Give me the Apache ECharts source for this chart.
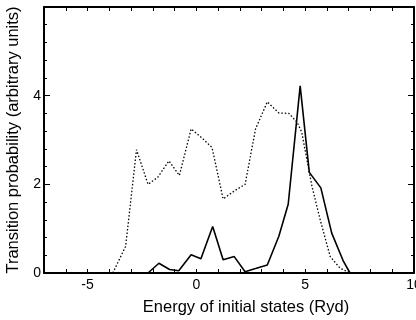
<!DOCTYPE html>
<html>
<head>
<meta charset="utf-8">
<script src="https://cdn.jsdelivr.net/npm/echarts@6/dist/echarts.min.js"></script>
<style>html,body{margin:0;padding:0;background:#fff}#c{width:416px;height:320px}</style>
</head>
<body>
<div id="c"></div>
<script>
// Dotted curve
var dottedX = [-3.84, -3.25, -2.75, -2.22, -1.77, -1.26, -0.78, -0.24, 0.25, 0.72, 1.23, 1.74, 2.24, 2.72, 3.26, 3.79, 4.25, 4.63, 4.84, 5.31, 5.69, 6.15, 6.6, 7.06];
var dottedY = [0, 0.6, 2.78, 2.0, 2.16, 2.53, 2.2, 3.25, 3.05, 2.83, 1.67, 1.85, 2.0, 3.25, 3.86, 3.61, 3.6, 3.4, 3.18, 1.96, 1.2, 0.37, 0.11, 0];
// Solid curve
var solidX = [-2.22, -1.72, -1.23, -0.81, -0.24, 0.21, 0.75, 1.23, 1.74, 2.24, 2.72, 3.26, 3.79, 4.22, 4.77, 5.19, 5.72, 6.22, 6.76, 7.06];
var solidY = [0, 0.22, 0.08, 0.05, 0.41, 0.32, 1.05, 0.3, 0.37, 0.03, 0.1, 0.18, 0.83, 1.55, 4.22, 2.27, 1.92, 0.9, 0.26, 0];
// Axis ticks/labels
var xLabels = [-5, 0, 5, 10];
var yLabels = [0, 2, 4];

function pairs(xs, ys) { return xs.map(function (x, i) { return [x, ys[i]]; }); }

var FONT = 'Liberation Sans';
var chart = echarts.init(document.getElementById('c'));
function xAxisDef(pos, withLabels) {
  var a = {
    type: 'value', min: -7, max: 10, interval: 1, position: pos,
    axisLine: { show: true, onZero: false, lineStyle: { color: '#000', width: 2 } },
    axisTick: { show: true, inside: true, length: 4, lineStyle: { color: '#000', width: 1 } },
    splitLine: { show: false },
    axisLabel: { show: withLabels, margin: 5, fontFamily: FONT, fontSize: 14, color: '#000',
      formatter: function (v) { return xLabels.indexOf(v) >= 0 ? String(v) : ''; } }
  };
  if (withLabels) {
    a.name = 'Energy of initial states (Ryd)';
    a.nameLocation = 'middle';
    a.nameGap = 26;
    a.nameTextStyle = { fontFamily: FONT, fontSize: 16.5, color: '#000', padding: [0, 0, 0, 34] };
  }
  return a;
}
function yAxisDef(pos, withLabels) {
  var a = {
    type: 'value', min: 0, max: 6, interval: 2, position: pos,
    axisLine: { show: true, onZero: false, lineStyle: { color: '#000', width: 2 } },
    axisTick: { show: true, inside: true, length: 6, lineStyle: { color: '#000' } },
    minorTick: { show: true, splitNumber: 5, length: 3, lineStyle: { color: '#000' } },
    splitLine: { show: false }, minorSplitLine: { show: false },
    axisLabel: { show: withLabels, margin: 3, fontFamily: FONT, fontSize: 14, color: '#000',
      formatter: function (v) { return yLabels.indexOf(v) >= 0 ? String(v) : ''; } }
  };
  if (withLabels) {
    a.name = 'Transition probability (arbitrary units)';
    a.nameLocation = 'middle';
    a.nameGap = 20;
    a.nameTextStyle = { fontFamily: FONT, fontSize: 16.5, color: '#000' };
  }
  return a;
}
chart.setOption({
  animation: false,
  backgroundColor: '#fff',
  grid: { left: 44, right: 2, top: 7, bottom: 47, containLabel: false, outerBoundsMode: 'none' },
  xAxis: [xAxisDef('bottom', true), xAxisDef('top', false)],
  yAxis: [yAxisDef('left', true), yAxisDef('right', false)],
  series: [
    {
      type: 'line', data: pairs(dottedX, dottedY), showSymbol: false, symbol: 'none',
      lineStyle: { color: '#000', width: 1.3, type: [1.5, 2] }, z: 3
    },
    {
      type: 'line', data: pairs(solidX, solidY), showSymbol: false, symbol: 'none',
      lineStyle: { color: '#000', width: 1.6, type: 'solid' }, z: 4
    }
  ]
});
</script>
</body>
</html>
